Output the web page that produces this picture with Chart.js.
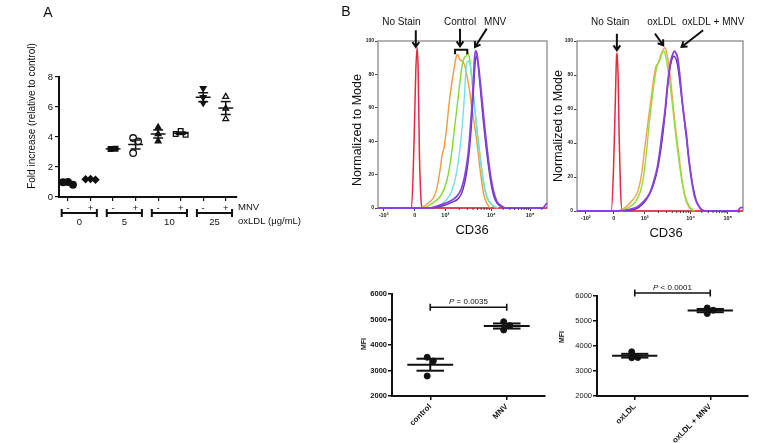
<!DOCTYPE html>
<html lang="en">
<head>
<meta charset="UTF-8">
<meta name="viewport" content="width=device-width, initial-scale=1.0">
<title>CD36 / MNV figure</title>
<script src="https://cdn.jsdelivr.net/npm/chart.js"></script>
<style>
  body { margin: 0; width: 777px; height: 443px; position: relative; background: #fff; overflow: hidden; }
  canvas { position: absolute; }
</style>
</head>
<body>
<canvas id="foldChart" style="left:0px;top:0px" width="320" height="240"></canvas>
<canvas id="histControl" style="left:340px;top:0px" width="215" height="240"></canvas>
<canvas id="histOxldl" style="left:550px;top:0px" width="227" height="245"></canvas>
<canvas id="mfiControl" style="left:355px;top:270px" width="200" height="173"></canvas>
<canvas id="mfiOxldl" style="left:550px;top:270px" width="227" height="173"></canvas>
<script>
const FONT = "'Liberation Sans', Arial, sans-serif";
Chart.defaults.font.family = FONT;
Chart.defaults.color = '#111';

// ---- panel A: fold increase ----
const mnvSigns = ['-', '+', '-', '+', '-', '+', '-', '+'];
const oxldlDoses = ['0', '5', '10', '25'];
const foldValues = [
  [1.0, 0.82, 0.98],
  [1.2, 1.15, 1.18],
  [3.2, 3.22],
  [3.93, 3.71, 2.93],
  [4.64, 4.2, 3.72],
  [4.4, 4.15, 4.2],
  [7.25, 6.65, 6.27],
  [6.69, 5.91, 5.2]
];
const foldMeans = [0.95, 1.18, 3.21, 3.5, 4.2, 4.25, 6.65, 5.93];
const foldSems = [0.06, 0.03, 0.02, 0.3, 0.27, 0.08, 0.3, 0.43];

// ---- panel B histograms: [display channel, % of mode] ----
const ctrlTickPos = [34, 223, 408, 687, 922];
const ctrlTickText = ['-10³', '0', '10³', '10⁴', '10⁵'];
const ctrlNoStain = [[0,0],[203,0],[219,42],[229,82],[237,96],[243,84],[251,32],[260,6],[266,0],[1024,0]];
const ctrlRep1 = [[264,0],[304,3],[335,6],[355,11],[375,22],[389,32],[400,36],[416,48],[430,62],[446,74],[462,84],[475,91],[483,92],[495,89],[507,88],[523,86],[537,80],[552,72],[568,60],[584,50],[596,42],[608,32],[625,18],[641,8],[659,3],[679,0]];
const ctrlRep2 = [[284,0],[345,4],[385,8],[416,16],[436,26],[450,36],[466,50],[483,64],[497,76],[511,86],[523,90],[533,91],[543,93],[554,90],[564,82],[578,68],[592,54],[608,40],[625,26],[641,14],[661,6],[690,2],[720,0]];
const ctrlRep3 = [[345,0],[406,4],[446,10],[477,22],[497,36],[511,50],[523,66],[531,80],[539,87],[548,88],[558,86],[572,74],[588,58],[604,42],[621,28],[639,16],[659,7],[690,2],[730,0]];
const mnvRep1 = [[0,0],[304,0],[385,2],[436,4],[477,7],[507,12],[531,22],[548,34],[560,48],[570,62],[578,76],[584,88],[590,94],[598,93],[608,86],[619,76],[633,62],[649,46],[665,32],[681,20],[700,10],[720,4],[750,1],[771,0],[1000,0],[1012,1.5],[1024,3]];
const mnvRep2 = [[330,0],[400,1.5],[450,3.5],[490,6],[515,11],[535,20],[552,33],[565,48],[575,64],[584,80],[591,89],[598,91],[605,87],[614,78],[625,66],[638,52],[653,38],[668,26],[684,15],[702,7],[724,2.5],[752,0.5],[775,0]];

const oxTickPos = [54, 227, 417, 701, 930];
const oxTickText = ['-10²', '0', '10³', '10⁴', '10⁵'];
const oxNoStain = [[0,0],[211,0],[225,24],[236,63],[244,91],[248,93],[254,77],[260,44],[268,14],[279,0],[1024,0]];
const oxRep1 = [[256,0],[297,2],[338,6],[373,11],[399,22],[414,34],[430,46],[444,57],[461,69],[475,79],[487,85],[502,87],[518,92],[532,95],[543,96],[553,93],[565,87],[580,75],[594,61],[610,47],[627,34],[645,20],[666,8],[692,2],[727,0]];
const oxRep2 = [[276,0],[317,2],[358,5],[389,11],[410,20],[430,36],[446,52],[463,66],[481,79],[496,86],[512,89],[526,93],[537,94],[549,90],[563,82],[577,72],[594,58],[610,44],[627,31],[645,19],[666,9],[692,3],[721,0]];
const oxMnvRep1 = [[0,0],[246,0],[328,1],[373,2.5],[410,5.5],[446,10],[475,18],[496,26],[512,36],[528,48],[543,59],[557,73],[569,83],[580,89],[590,92],[600,94],[610,93],[621,90],[635,79],[649,65],[664,53],[676,44],[690,30],[707,18],[727,8],[754,2.5],[788,0],[990,0],[1010,2],[1024,2]];
const oxMnvRep2 = [[300,0],[380,2],[430,7],[470,15],[500,26],[520,38],[540,54],[556,70],[570,82],[585,89],[597,91],[608,90],[620,86],[634,76],[650,63],[666,50],[682,37],[698,25],[716,14],[736,6],[760,1.5],[790,0]];

// ---- panel B bottom: MFI ----
const mfiCats1 = ['control', 'MNV'];
const mfiValues1 = [[3518, 3373, 2784], [4914, 4588, 4757]];
const mfiMeans1 = [3227, 4745];
const mfiSems1 = [235, 100];
const mfiP1 = '= 0.0035';
const mfiCats2 = ['oxLDL', 'oxLDL + MNV'];
const mfiValues2 = [[3767, 3528, 3540], [5522, 5298, 5431]];
const mfiMeans2 = [3612, 5417];
const mfiSems2 = [75, 65];
const mfiP2 = '< 0.0001';

// spread points that would overlap, like a dot plot does
function swarm(vals, gapY, step) {
  const placed = [];
  const offs = vals.map(v => {
    let k = 0, o = 0;
    for (;;) {
      o = k === 0 ? 0 : (k % 2 ? 1 : -1) * Math.ceil(k / 2) * step;
      if (!placed.some(p => Math.abs(p.v - v) < gapY && Math.abs(p.o - o) < step * 0.9)) break;
      k++;
    }
    placed.push({ v, o });
    return o;
  });
  const mid = (Math.min(...offs) + Math.max(...offs)) / 2;
  return offs.map(o => o - mid);
}

// free text in page coordinates
function textLayer(items) {
  return {
    id: 'textLayer',
    afterDraw(chart) {
      const ctx = chart.ctx, ox = chart.canvas.offsetLeft, oy = chart.canvas.offsetTop;
      items.forEach(d => {
        ctx.save();
        ctx.translate(d.x - ox, d.y - oy);
        if (d.rot) ctx.rotate(d.rot * Math.PI / 180);
        ctx.font = d.font + ' ' + FONT;
        ctx.fillStyle = '#111';
        ctx.textAlign = d.align || 'center';
        ctx.textBaseline = 'middle';
        ctx.fillText(d.t, 0, 0);
        ctx.restore();
      });
    }
  };
}

// mean line + SEM whiskers
function meanSemLayer(means, sems, mw, sw, lw) {
  return {
    id: 'meanSem',
    afterDatasetsDraw(chart) {
      const { ctx, scales: { x, y } } = chart;
      ctx.save();
      ctx.strokeStyle = '#111';
      ctx.lineWidth = lw;
      const hline = (x0, x1, v) => {
        ctx.beginPath();
        ctx.moveTo(x.getPixelForValue(x0), y.getPixelForValue(v));
        ctx.lineTo(x.getPixelForValue(x1), y.getPixelForValue(v));
        ctx.stroke();
      };
      means.forEach((m, i) => {
        const s = sems[i];
        hline(i - mw, i + mw, m);
        hline(i - sw, i + sw, m + s);
        hline(i - sw, i + sw, m - s);
        const px = x.getPixelForValue(i);
        ctx.beginPath();
        ctx.moveTo(px, y.getPixelForValue(m + s));
        ctx.lineTo(px, y.getPixelForValue(m - s));
        ctx.stroke();
      });
      ctx.restore();
    }
  };
}

// significance bar between the two groups
function pBarLayer(yVal, rest) {
  return {
    id: 'pBar',
    afterDatasetsDraw(chart) {
      const { ctx, scales: { x, y } } = chart;
      const x0 = x.getPixelForValue(0), x1 = x.getPixelForValue(1), py = y.getPixelForValue(yVal);
      ctx.save();
      ctx.strokeStyle = '#111';
      ctx.lineWidth = 1.6;
      ctx.beginPath();
      ctx.moveTo(x0, py); ctx.lineTo(x1, py);
      ctx.moveTo(x0, py - 3.5); ctx.lineTo(x0, py + 3.5);
      ctx.moveTo(x1, py - 3.5); ctx.lineTo(x1, py + 3.5);
      ctx.stroke();
      const fi = 'italic 8px ' + FONT, fn = '8px ' + FONT;
      ctx.font = fi; const wP = ctx.measureText('P ').width;
      ctx.font = fn; const wR = ctx.measureText(rest).width;
      const tx = (x0 + x1) / 2 - (wP + wR) / 2;
      ctx.fillStyle = '#111';
      ctx.textAlign = 'left';
      ctx.textBaseline = 'alphabetic';
      ctx.font = fi; ctx.fillText('P', tx, py - 3);
      ctx.font = fn; ctx.fillText(rest, tx + wP, py - 3);
      ctx.restore();
    }
  };
}

// brackets and dose labels under panel A
const foldAxisDecor = {
  id: 'foldAxisDecor',
  afterDraw(chart) {
    const { ctx, scales: { x }, chartArea: a } = chart;
    ctx.save();
    ctx.strokeStyle = '#111';
    ctx.fillStyle = '#111';
    ctx.font = '9.5px ' + FONT;
    ctx.textAlign = 'center';
    ctx.textBaseline = 'middle';
    oxldlDoses.forEach((d, g) => {
      const x0 = x.getPixelForValue(2 * g - 0.28), x1 = x.getPixelForValue(2 * g + 1.28), yb = a.bottom + 16;
      ctx.lineWidth = 2;
      ctx.beginPath(); ctx.moveTo(x0, yb); ctx.lineTo(x1, yb); ctx.stroke();
      ctx.beginPath();
      ctx.moveTo(x0, yb - 4); ctx.lineTo(x0, yb + 4);
      ctx.moveTo(x1, yb - 4); ctx.lineTo(x1, yb + 4);
      ctx.stroke();
      ctx.fillText(d, (x0 + x1) / 2, a.bottom + 25);
    });
    ctx.restore();
  }
};

new Chart(document.getElementById('foldChart'), {
  type: 'scatter',
  data: {
    datasets: foldValues.map((vals, i) => {
      const offs = swarm(vals, 0.35, 0.22);
      const styles = ['circle', 'rectRot', 'rect', 'circle', 'triangle', 'rect', 'triangle', 'triangle'];
      const open = [false, false, false, true, false, true, false, true];
      return {
        data: vals.map((v, j) => ({ x: i + offs[j], y: v })),
        pointStyle: styles[i],
        pointRotation: i === 6 ? 180 : 0,
        pointRadius: 3.3,
        pointBackgroundColor: open[i] ? '#fff' : '#111',
        pointBorderColor: '#111',
        pointBorderWidth: 1.3
      };
    })
  },
  options: {
    responsive: false,
    animation: false,
    layout: { padding: { top: 77, right: 83, left: 0, bottom: 0 } },
    plugins: { legend: { display: false }, tooltip: { enabled: false } },
    scales: {
      x: {
        type: 'linear', min: -0.4, max: 7.5,
        afterBuildTicks: s => { s.ticks = mnvSigns.map((_, i) => ({ value: i })); },
        afterFit: s => { s.height = 43; },
        ticks: { autoSkip: false, maxRotation: 0, padding: 2, font: { size: 9.5 }, callback: v => mnvSigns[Math.round(v)] },
        grid: { drawOnChartArea: false, tickLength: 4, color: '#111', lineWidth: 1.2 },
        border: { color: '#111', width: 2 }
      },
      y: {
        min: 0, max: 8,
        afterBuildTicks: s => { s.ticks = [0, 2, 4, 6, 8].map(v => ({ value: v })); },
        afterFit: s => { s.width = 59; },
        ticks: { padding: 2, font: { size: 9.5 } },
        grid: { drawOnChartArea: false, tickLength: 4, color: '#111', lineWidth: 1.2 },
        border: { color: '#111', width: 2 }
      }
    }
  },
  plugins: [meanSemLayer(foldMeans, foldSems, 0.33, 0.22, 1.5), foldAxisDecor, textLayer([
    { t: 'A', x: 48, y: 13, font: '14px' },
    { t: 'Fold increase (relative to control)', x: 32, y: 116, rot: -90, font: '10px' },
    { t: 'MNV', x: 238, y: 207, align: 'left', font: '9.5px' },
    { t: 'oxLDL (μg/mL)', x: 238, y: 221, align: 'left', font: '9.5px' }
  ])]
});

function curve(data, color, w) {
  return { data, borderColor: color, borderWidth: w, pointRadius: 0, fill: false, cubicInterpolationMode: 'monotone', clip: 3 };
}

function minorTicks(pos) {
  const out = [];
  const p3 = pos[2], p4 = pos[3], p5 = pos[4];
  for (let m = 2; m <= 9; m++) {
    const l = Math.log10(m);
    out.push(p3 + l * (p4 - p3), p4 + l * (p5 - p4), p5 + l * (p5 - p4));
  }
  return out.filter(v => v < 1024);
}

function histDecor(o) {
  return {
    id: 'histDecor',
    beforeDatasetsDraw(chart) {
      const { ctx, chartArea: a } = chart;
      ctx.save();
      ctx.strokeStyle = '#9a9a9a';
      ctx.lineWidth = 1.5;
      ctx.strokeRect(a.left, a.top, a.right - a.left, a.bottom - a.top);
      ctx.restore();
    },
    afterDraw(chart) {
      const { ctx, scales: { x, y }, chartArea: a } = chart;
      ctx.save();
      ctx.strokeStyle = '#444';
      ctx.lineWidth = 1;
      minorTicks(o.tickPos).forEach(v => {
        const px = x.getPixelForValue(v);
        ctx.beginPath(); ctx.moveTo(px, a.bottom); ctx.lineTo(px, a.bottom + 2); ctx.stroke();
      });
      ctx.strokeStyle = '#111';
      ctx.lineWidth = 2;
      o.arrows.forEach(([xa, ya, xb, yb]) => {
        const x0 = x.getPixelForValue(xa), y0 = y.getPixelForValue(ya);
        const x1 = x.getPixelForValue(xb), y1 = y.getPixelForValue(yb);
        const ang = Math.atan2(y1 - y0, x1 - x0), h = 6;
        ctx.beginPath();
        ctx.moveTo(x0, y0); ctx.lineTo(x1, y1);
        ctx.moveTo(x1 - h * Math.cos(ang - 0.6), y1 - h * Math.sin(ang - 0.6));
        ctx.lineTo(x1, y1);
        ctx.lineTo(x1 - h * Math.cos(ang + 0.6), y1 - h * Math.sin(ang + 0.6));
        ctx.stroke();
      });
      (o.brackets || []).forEach(([xa, xb, yt, ybm]) => {
        const x0 = x.getPixelForValue(xa), x1 = x.getPixelForValue(xb);
        const py = y.getPixelForValue(yt), pb = y.getPixelForValue(ybm);
        ctx.beginPath();
        ctx.moveTo(x0, pb); ctx.lineTo(x0, py); ctx.lineTo(x1, py); ctx.lineTo(x1, pb);
        ctx.stroke();
      });
      ctx.fillStyle = '#111';
      ctx.font = '10px ' + FONT;
      ctx.textAlign = 'center';
      ctx.textBaseline = 'middle';
      o.labels.forEach(([t, xv, yv]) => ctx.fillText(t, x.getPixelForValue(xv), y.getPixelForValue(yv)));
      ctx.restore();
    }
  };
}

function histChart(id, o) {
  return new Chart(document.getElementById(id), {
    type: 'line',
    data: { datasets: o.curves },
    options: {
      responsive: false,
      animation: false,
      layout: { padding: { top: 41, right: o.padRight, left: 0, bottom: 0 } },
      plugins: { legend: { display: false }, tooltip: { enabled: false } },
      scales: {
        x: {
          type: 'linear', min: 0, max: 1024,
          afterBuildTicks: s => { s.ticks = o.tickPos.map(v => ({ value: v })); },
          afterFit: s => { s.height = o.axisH; },
          ticks: { autoSkip: false, maxRotation: 0, padding: 1, font: { size: 5.5, weight: 'bold' }, color: '#222', callback: (v, i) => o.tickText[i] },
          grid: { drawOnChartArea: false, tickLength: 3, color: '#444' },
          border: { display: false }
        },
        y: {
          min: 0, max: 100,
          afterBuildTicks: s => { s.ticks = [0, 20, 40, 60, 80, 100].map(v => ({ value: v })); },
          afterFit: s => { s.width = o.axisW; },
          ticks: { padding: 1, font: { size: 5, weight: 'bold' }, color: '#222' },
          grid: { drawOnChartArea: false, tickLength: 3, color: '#444' },
          border: { display: false }
        }
      }
    },
    plugins: [histDecor(o), textLayer(o.texts)]
  });
}

histChart('histControl', {
  curves: [
    curve(mnvRep1, '#8a3fe2', 1.8),
    curve(mnvRep2, '#5b35b2', 1.4),
    curve(ctrlRep3, '#6fe2ea', 1.4),
    curve(ctrlRep2, '#7fdc2c', 1.4),
    curve(ctrlRep1, '#f39a3a', 1.4),
    curve(ctrlNoStain, '#e8283c', 1.5)
  ],
  tickPos: ctrlTickPos, tickText: ctrlTickText,
  padRight: 8, axisH: 32, axisW: 38,
  labels: [['No Stain', 142, 111], ['Control', 497, 111], ['MNV', 710, 111]],
  arrows: [[229, 106.4, 229, 96.4], [497, 107.4, 497, 96.8], [659, 107.4, 588, 96.4]],
  brackets: [[467, 541, 94.7, 92]],
  texts: [
    { t: 'B', x: 346, y: 12, font: '14px' },
    { t: 'Normalized to Mode', x: 358, y: 130, rot: -90, font: '12.5px' },
    { t: 'CD36', x: 472, y: 230, font: '13px' }
  ]
});

histChart('histOxldl', {
  curves: [
    curve(oxMnvRep1, '#8a3fe2', 1.8),
    curve(oxMnvRep2, '#5b35b2', 1.4),
    curve(oxRep2, '#8ee03a', 1.4),
    curve(oxRep1, '#f5a04a', 1.4),
    curve(oxNoStain, '#e8283c', 1.5)
  ],
  tickPos: oxTickPos, tickText: oxTickText,
  padRight: 34, axisH: 34, axisW: 27,
  labels: [['No Stain', 205, 111], ['oxLDL', 522, 111], ['oxLDL + MNV', 840, 111]],
  arrows: [[246, 104.3, 246, 94.5], [481, 104.3, 532, 97.5], [778, 106.3, 645, 96.5]],
  texts: [
    { t: 'Normalized to Mode', x: 559, y: 126, rot: -90, font: '12.5px' },
    { t: 'CD36', x: 666, y: 233, font: '13px' }
  ]
});

function mfiChart(id, cats, values, means, sems, pRest, pY, box) {
  return new Chart(document.getElementById(id), {
    type: 'scatter',
    data: {
      datasets: values.map((vals, i) => {
        const offs = swarm(vals, 200, 0.08);
        return {
          data: vals.map((v, j) => ({ x: i + offs[j], y: v })),
          pointRadius: 3, pointStyle: 'circle',
          pointBackgroundColor: '#111', pointBorderColor: '#111'
        };
      })
    },
    options: {
      responsive: false,
      animation: false,
      layout: { padding: { top: box.pt, right: box.pr, left: 0, bottom: 0 } },
      plugins: { legend: { display: false }, tooltip: { enabled: false } },
      scales: {
        x: {
          type: 'linear', min: -0.5, max: 1.5,
          afterBuildTicks: s => { s.ticks = cats.map((_, i) => ({ value: i })); },
          afterFit: s => { s.height = 47; },
          ticks: { autoSkip: false, minRotation: 45, maxRotation: 45, padding: 2, font: { size: 8, weight: 'bold' }, callback: v => cats[Math.round(v)] },
          grid: { drawOnChartArea: false, tickLength: 4, color: '#111', lineWidth: 1.5 },
          border: { color: '#111', width: 2 }
        },
        y: {
          min: 2000, max: 6000,
          afterBuildTicks: s => { s.ticks = [2000, 3000, 4000, 5000, 6000].map(v => ({ value: v })); },
          afterFit: s => { s.width = box.yw; },
          ticks: { padding: 1, font: { size: 7.5, weight: box.bold ? 'bold' : 'normal' }, callback: v => String(v) },
          grid: { drawOnChartArea: false, tickLength: 4, color: '#111', lineWidth: 1.5 },
          border: { color: '#111', width: 2 }
        }
      }
    },
    plugins: [meanSemLayer(means, sems, 0.3, 0.18, 2), pBarLayer(pY, pRest), textLayer(box.texts)]
  });
}

mfiChart('mfiControl', mfiCats1, mfiValues1, mfiMeans1, mfiSems1, mfiP1, 5478,
  { pt: 24, pr: 10, yw: 37, bold: true, texts: [{ t: 'MFI', x: 364.5, y: 344, rot: -90, font: 'bold 7px' }] });
mfiChart('mfiOxldl', mfiCats2, mfiValues2, mfiMeans2, mfiSems2, mfiP2, 6120,
  { pt: 26, pr: 29, yw: 47, bold: false, texts: [{ t: 'MFI', x: 562, y: 337, rot: -90, font: 'bold 7px' }] });
</script>
</body>
</html>
